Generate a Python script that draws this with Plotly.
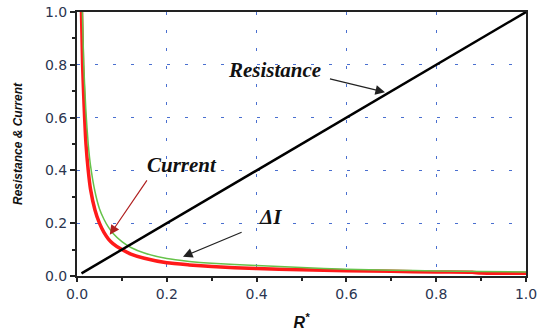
import plotly.graph_objects as go

# Resistance (black, straight)
res_x = [0.01, 0.1, 0.2, 0.3, 0.4, 0.5, 0.6, 0.7, 0.8, 0.9, 1.0]
res_y = [0.01, 0.1, 0.2, 0.3, 0.4, 0.5, 0.6, 0.7, 0.8, 0.9, 1.0]

# Current (red)
cur_x = [0.01, 0.0125, 0.015, 0.017, 0.02, 0.025, 0.03, 0.04, 0.05, 0.06, 0.07, 0.08,
         0.1, 0.12, 0.15, 0.2, 0.25, 0.3, 0.4, 0.5, 0.6, 0.7, 0.8, 0.88, 0.9, 1.0]
cur_y = [1.0, 0.8, 0.68, 0.6, 0.5, 0.4, 0.33, 0.25, 0.2, 0.165, 0.14, 0.123,
         0.1, 0.083, 0.067, 0.05, 0.042, 0.036, 0.028, 0.024, 0.02, 0.018, 0.015, 0.014, 0.011, 0.01]

# Delta I (green)
di_x = [0.012, 0.015, 0.02, 0.025, 0.03, 0.04, 0.05, 0.06, 0.07, 0.08, 0.1, 0.12,
        0.15, 0.2, 0.25, 0.3, 0.4, 0.5, 0.6, 0.7, 0.8, 0.9, 1.0]
di_y = [1.0, 0.8, 0.62, 0.5, 0.42, 0.32, 0.255, 0.215, 0.185, 0.162, 0.13, 0.108,
        0.087, 0.066, 0.055, 0.048, 0.04, 0.032, 0.026, 0.022, 0.019, 0.017, 0.015]

x_ticks = [0.0, 0.2, 0.4, 0.6, 0.8, 1.0]
x_labels = ["0.0", "0.2", "0.4", "0.6", "0.8", "1.0"]
y_ticks = [0.0, 0.2, 0.4, 0.6, 0.8, 1.0]
y_labels = ["0.0", "0.2", "0.4", "0.6", "0.8", "1.0"]

fig = go.Figure()
fig.add_trace(go.Scatter(x=cur_x, y=cur_y, mode="lines", line=dict(color="#ff1a1a", width=3.5, shape="spline", smoothing=0.6), showlegend=False))
fig.add_trace(go.Scatter(x=di_x, y=di_y, mode="lines", line=dict(color="#66c24a", width=1.5, shape="spline", smoothing=0.6), showlegend=False))
fig.add_trace(go.Scatter(x=res_x, y=res_y, mode="lines", line=dict(color="#000000", width=2.5), showlegend=False))

label_font = dict(family="Liberation Serif", size=21, color="#111111")

fig.add_annotation(x=0.686, y=0.696, ax=0.56, ay=0.748, xref="x", yref="y", axref="x", ayref="y",
                   text="", showarrow=True, arrowhead=2, arrowsize=1.6, arrowwidth=1.2, arrowcolor="#222222")
fig.add_annotation(x=0.44, y=0.78, text="<b><i>Resistance</i></b>", showarrow=False, font=label_font)

fig.add_annotation(x=0.073, y=0.156, ax=0.158, ay=0.368, xref="x", yref="y", axref="x", ayref="y",
                   text="", showarrow=True, arrowhead=2, arrowsize=1.6, arrowwidth=1.2, arrowcolor="#b02020")
fig.add_annotation(x=0.234, y=0.422, text="<b><i>Current</i></b>", showarrow=False, font=label_font)

fig.add_annotation(x=0.236, y=0.073, ax=0.37, ay=0.168, xref="x", yref="y", axref="x", ayref="y",
                   text="", showarrow=True, arrowhead=2, arrowsize=1.6, arrowwidth=1.2, arrowcolor="#222222")
fig.add_annotation(x=0.432, y=0.222, text="<b><i>ΔI</i></b>", showarrow=False, font=dict(family="Liberation Serif", size=21, color="#111111"))

tick_font = dict(family="DejaVu Sans", size=14, color="#2b3550")
grid_dash = "3px,15px"

fig.update_xaxes(range=[0, 1], tickvals=x_ticks, ticktext=x_labels, showline=True, linecolor="#222222", linewidth=2,
                 mirror=True, ticks="outside", ticklen=4, tickwidth=1.5, tickcolor="#222222", automargin=False,
                 ticklabeloverflow="allow",
                 minor=dict(tickvals=[0.1, 0.3, 0.5, 0.7, 0.9], ticks="outside", ticklen=3, tickcolor="#222222", showgrid=False),
                 showgrid=True, gridcolor="#4a6fd0", griddash=grid_dash, gridwidth=1, zeroline=False, tickfont=tick_font,
                 title=dict(text="<b><i>R<sup>*</sup></i></b>", font=dict(family="Liberation Sans", size=16, color="#111111"), standoff=16))
fig.update_yaxes(range=[0, 1], tickvals=y_ticks, ticktext=y_labels, showline=True, linecolor="#222222", linewidth=2,
                 mirror=True, ticks="outside", ticklen=5, tickwidth=1.5, tickcolor="#222222", automargin=False,
                 ticklabeloverflow="allow",
                 minor=dict(tickvals=[0.1, 0.3, 0.5, 0.7, 0.9], ticks="outside", ticklen=3, tickcolor="#222222", showgrid=False),
                 showgrid=True, gridcolor="#4a6fd0", griddash=grid_dash, gridwidth=1, zeroline=False, tickfont=tick_font,
                 title=dict(text="<b><i>Resistance & Current</i></b>", font=dict(family="Liberation Sans Narrow, Liberation Sans", size=12, color="#111111"), standoff=20))

fig.update_layout(width=537, height=331, margin=dict(l=77, r=11, t=12, b=55),
                  plot_bgcolor="white", paper_bgcolor="white")

# remove the default 8px page margin so the figure fills the window
fig.write_html("out.html", config={"displayModeBar": False},
               post_script="document.body.style.margin='0';document.body.style.overflow='hidden';")
